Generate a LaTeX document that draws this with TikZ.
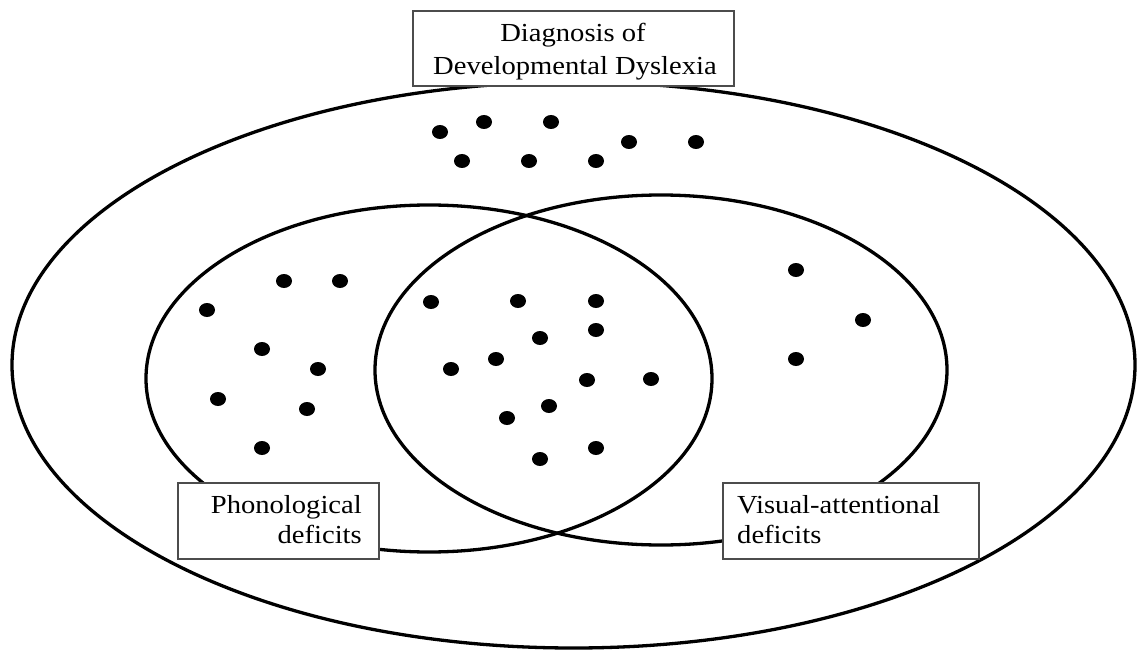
\documentclass[tikz,border=0pt]{standalone}
\usepackage{fontspec}
\setmainfont{Liberation Serif}[FakeStretch=1.1]
\begin{document}
\begin{tikzpicture}[x=1pt,y=-1pt,
  set/.style={line width=3.3pt,draw=black},
  labelbox/.style={draw=black!70,line width=1.3pt,fill=white,inner sep=0pt,outer sep=0pt},
  labeltext/.style={inner sep=0pt,font=\fontsize{26pt}{33pt}\selectfont},
  dotmark/.style={fill=black}]
\useasboundingbox (0,0) rectangle (1138,650);

% sets: all diagnosed children, and the two deficit groups
\draw[set] (573.5,365) ellipse [x radius=561.5, y radius=283];
\draw[set] (429,378.5) ellipse [x radius=283, y radius=173.5];
\draw[set] (661,370) ellipse [x radius=286, y radius=175];

% individual cases
\foreach \px/\py in {
  440/132, 484/122, 551/122, 462/161, 529/161, 596/161, 629/142, 696/142,
  284/281, 340/281, 207/310, 262/349, 318/369, 218/399, 307/409, 262/448,
  431/302, 518/301, 596/301, 596/330, 540/338, 496/359, 451/369, 587/380,
  651/379, 549/406, 507/418, 540/459, 596/448,
  796/270, 863/320, 796/359}
  \fill[dotmark] (\px,\py) ellipse [x radius=8, y radius=7];

% label boxes
\node[labelbox,minimum width=321pt,minimum height=75pt] (diagbox) at (573.5,48.5) {};
\node[labelbox,minimum width=201pt,minimum height=76pt] (phonbox) at (278.5,521) {};
\node[labelbox,minimum width=256pt,minimum height=76pt] (visbox) at (851,521) {};

% label texts
\node[labeltext,anchor=base] (diag1) at (573,41.7) {Diagnosis of};
\node[labeltext,anchor=base] (diag2) at (575,75) {Developmental Dyslexia};
\node[labeltext,anchor=base east] (phon1) at (362,513) {Phonological};
\node[labeltext,anchor=base east] (phon2) at (362,543) {deficits};
\node[labeltext,anchor=base west] (vis1) at (737,513) {Visual-attentional};
\node[labeltext,anchor=base west] (vis2) at (737,543) {deficits};
\end{tikzpicture}
\end{document}
